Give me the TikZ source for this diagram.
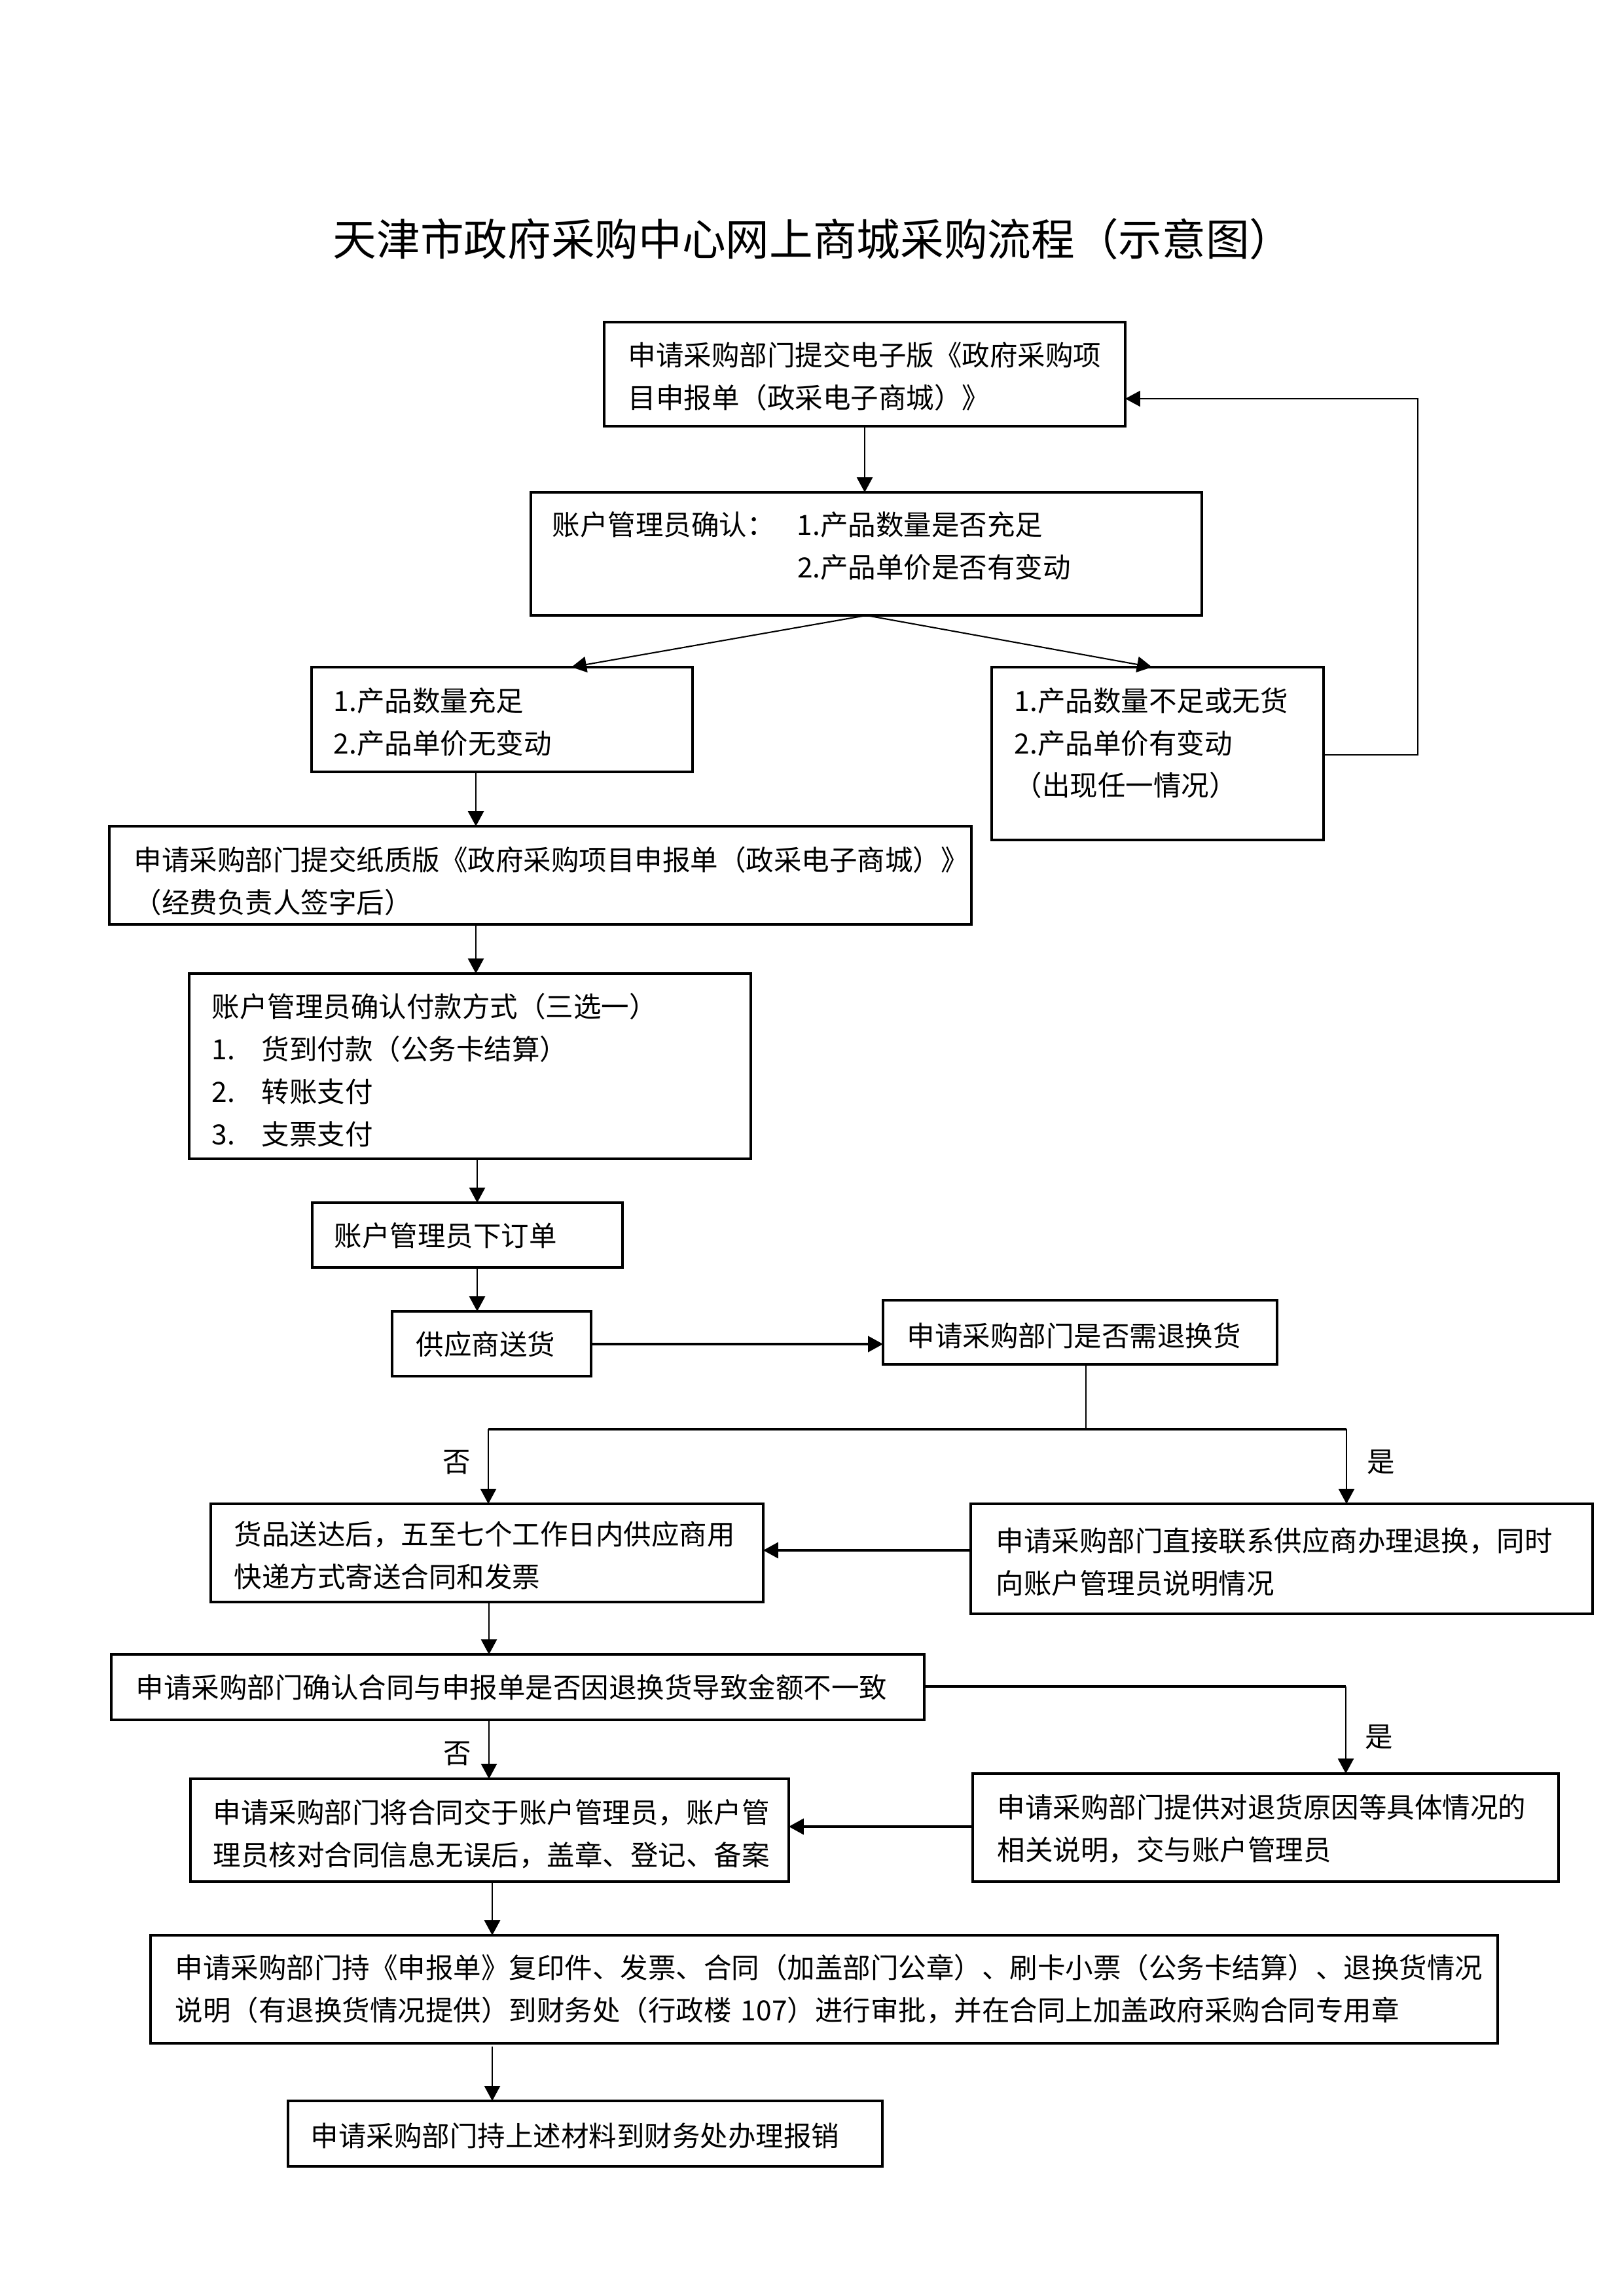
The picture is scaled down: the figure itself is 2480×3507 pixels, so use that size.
\documentclass[tikz,border=0pt]{standalone}
\usepackage{fontspec}
\setmainfont{Noto Sans CJK SC}
\usetikzlibrary{arrows.meta}
\newcommand\bodyfont{\fontsize{10.2pt}{15.6pt}\selectfont}
\newcommand\titlefont{\fontsize{16pt}{19pt}\selectfont}
\newcommand\mybox[5]{\node[box, anchor=north west, minimum width={(#4-#2)*0.24pt}, minimum height={(#5-#3)*0.24pt}] (#1) at (#2,#3) {};}
\begin{document}
\begin{tikzpicture}[x=0.24pt,y=-0.24pt,
  box/.style={draw, line width=0.75pt, rectangle, inner sep=0pt, outer sep=0pt},
  txt/.style={anchor=base west, inner sep=0pt, align=left, font=\bodyfont},
  lbl/.style={anchor=base, inner sep=0pt, font=\bodyfont},
  arr/.style={-{Triangle[length=5.5pt,width=5.8pt]}, line width=0.5pt},
  thk/.style={-{Triangle[length=5.5pt,width=5.8pt]}, line width=0.85pt},
  thin/.style={line width=0.5pt},
  thick line/.style={line width=0.85pt}]
\path[fill=white] (0,0) rectangle (2480,3507);
\useasboundingbox (0,0) rectangle (2480,3507);

% title
\node[anchor=base west, inner sep=0pt, font=\titlefont] (title) at (508,391) {天津市政府采购中心网上商城采购流程（示意图）};

% boxes
\mybox{b1}{923}{492}{1719}{651}
\mybox{b2}{811}{752}{1836}{940}
\mybox{b3}{476}{1019}{1058}{1179}
\mybox{b4}{1515}{1019}{2022}{1283}
\mybox{b5}{167}{1262}{1484}{1412}
\mybox{b6}{289}{1487}{1147}{1770}
\mybox{b7}{477}{1837}{951}{1936}
\mybox{b8}{599}{2003}{903}{2102}
\mybox{b9}{1349}{1986}{1951}{2084}
\mybox{b10}{322}{2297}{1166}{2447}
\mybox{b11}{1483}{2297}{2433}{2465}
\mybox{b12}{170}{2527}{1412}{2627}
\mybox{b13}{1486}{2709}{2381}{2874}
\mybox{b14}{291}{2717}{1205}{2874}
\mybox{b15}{230}{2956}{2288}{3121}
\mybox{b16}{440}{3209}{1348}{3309}

% texts
\node[txt, text width=180pt] (b1t) at (959,559) {申请采购部门提交电子版《政府采购项\\目申报单（政采电子商城）》};
\node[txt, text width=230pt] (b2t) at (843,818) {\makebox[89.8pt][l]{账户管理员确认：}1.产品数量是否充足\\\hspace*{89.8pt}2.产品单价是否有变动};
\node[txt, text width=130pt] (b3t) at (509,1086) {1.产品数量充足\\2.产品单价无变动};
\node[txt, text width=115pt] (b4t) at (1549,1086) {1.产品数量不足或无货\\2.产品单价有变动\\（出现任一情况）};
\node[txt, text width=310pt] (b5t) at (204,1329) {申请采购部门提交纸质版《政府采购项目申报单（政采电子商城）》\\（经费负责人签字后）};
\node[txt, text width=195pt] (b6t) at (323,1553) {账户管理员确认付款方式（三选一）\\\makebox[18.2pt][l]{1.}货到付款（公务卡结算）\\\makebox[18.2pt][l]{2.}转账支付\\\makebox[18.2pt][l]{3.}支票支付};
\node[txt, text width=105pt] (b7t) at (510,1903) {账户管理员下订单};
\node[txt, text width=65pt] (b8t) at (635,2069) {供应商送货};
\node[txt, text width=135pt] (b9t) at (1385,2056) {申请采购部门是否需退换货};
\node[txt, text width=195pt] (b10t) at (357,2359) {货品送达后，五至七个工作日内供应商用\\快递方式寄送合同和发票};
\node[txt, text width=215pt] (b11t) at (1521,2369) {申请采购部门直接联系供应商办理退换，同时\\向账户管理员说明情况};
\node[txt, text width=285pt] (b12t) at (207,2593) {申请采购部门确认合同与申报单是否因退换货导致金额不一致};
\node[txt, text width=205pt] (b13t) at (1523,2776) {申请采购部门提供对退货原因等具体情况的\\相关说明，交与账户管理员};
\node[txt, text width=210pt] (b14t) at (325,2784) {申请采购部门将合同交于账户管理员，账户管\\理员核对合同信息无误后，盖章、登记、备案};
\node[txt, text width=485pt] (b15t) at (267,3021) {申请采购部门持《申报单》复印件、发票、合同（加盖部门公章）、刷卡小票（公务卡结算）、退换货情况\\说明（有退换货情况提供）到财务处（行政楼 107）进行审批，并在合同上加盖政府采购合同专用章};
\node[txt, text width=205pt] (b16t) at (474,3278) {申请采购部门持上述材料到财务处办理报销};

% labels
\node[lbl] (no1) at (698,2248) {否};
\node[lbl] (yes1) at (2110,2248) {是};
\node[lbl] (no2) at (699,2693) {否};
\node[lbl] (yes2) at (2107,2668) {是};

% helper coordinates
\coordinate (c873) at (873,0);
\coordinate (c1760) at (1760,0);
\coordinate (c727) at (727,0);
\coordinate (c729) at (729,0);
\coordinate (c747) at (747,0);
\coordinate (c752) at (752,0);
\coordinate (fb1) at (2166,1153);
\coordinate (fb2) at (2166,609);
\coordinate (j1) at (1659,2183);
\coordinate (jl) at (746,2183);
\coordinate (jr) at (2057,2183);
\coordinate (y2368) at (0,2368);
\coordinate (k1) at (2056,2576);
\coordinate (y2790) at (0,2790);
\coordinate (y2053) at (0,2053);

% connectors
\draw[arr] (b1.south) -- (b1.south |- b2.north);
\draw[arr] (b2.south) -- (b3.north -| c873);
\draw[arr] (b2.south) -- (b4.north -| c1760);
\draw[arr] (b4.east |- fb1) -- (fb1) -- (fb2) -- (b1.east |- fb2);
\draw[arr] (b3.south -| c727) -- (b5.north -| c727);
\draw[arr] (b5.south -| c727) -- (b6.north -| c727);
\draw[arr] (b6.south -| c729) -- (b7.north -| c729);
\draw[arr] (b7.south -| c729) -- (b8.north -| c729);
\draw[thk] (b8.east |- y2053) -- (b9.west |- y2053);
\draw[thin] (b9.south -| j1) -- (j1);
\draw[thick line] (jl) -- (jr);
\draw[arr] (jl) -- (b10.north -| jl);
\draw[arr] (jr) -- (b11.north -| jr);
\draw[thk] (b11.west |- y2368) -- (b10.east |- y2368);
\draw[arr] (b10.south -| c747) -- (b12.north -| c747);
\draw[thick line] (b12.east |- k1) -- (k1);
\draw[arr] (k1) -- (b13.north -| k1);
\draw[arr] (b12.south -| c747) -- (b14.north -| c747);
\draw[thk] (b13.west |- y2790) -- (b14.east |- y2790);
\draw[arr] (b14.south -| c752) -- (b15.north -| c752);
\draw[arr] ([yshift=-1.2pt]b15.south -| c752) -- (b16.north -| c752);
\end{tikzpicture}
\end{document}
